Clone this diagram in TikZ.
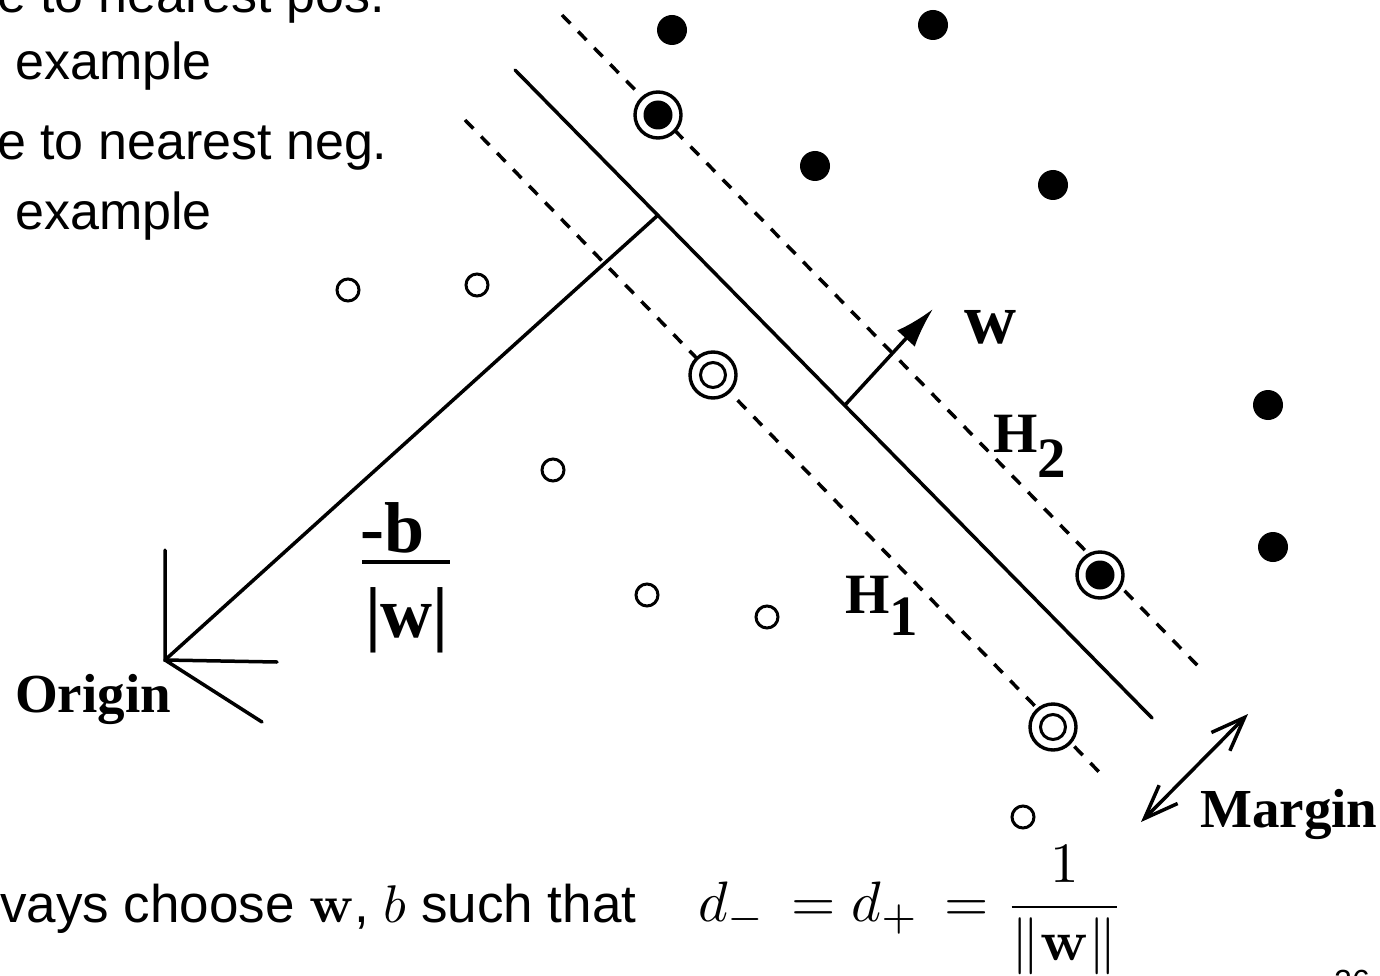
\documentclass[tikz,border=0pt]{standalone}
\usepackage{graphicx}
\usepackage[no-math]{fontspec}
\setmainfont{Liberation Sans}
\newfontfamily\tnr{Liberation Serif}
\usetikzlibrary{arrows.meta}
\newcommand{\mybigmath}[1]{\scalebox{5.3}{\normalsize$#1$}}
\begin{document}
\begin{tikzpicture}[x=1pt,y=-1pt,
  solidline/.style={line width=3.5pt, line cap=round},
  dashline/.style={line width=3.5pt, dash pattern=on 12pt off 11pt},
  posdot/.style={circle, fill=black, inner sep=0pt, minimum size=30pt},
  innerdot/.style={circle, fill=black, inner sep=0pt, minimum size=29pt},
  negdot/.style={circle, draw=black, line width=3pt, fill=white, inner sep=0pt, minimum size=22pt},
  innerneg/.style={circle, draw=black, line width=3pt, fill=white, inner sep=0pt, minimum size=25pt},
  ringmark/.style={circle, draw=black, line width=3.4pt, fill=white, inner sep=0pt, minimum size=46pt},
  slide/.style={font=\fontsize{52}{60}\selectfont, inner sep=0pt, anchor=base west},
  lab/.style={font=\fontsize{55}{60}\selectfont\tnr\bfseries, inner sep=0pt},
  biglab/.style={font=\fontsize{72}{76}\selectfont\tnr\bfseries, inner sep=0pt, anchor=base},
]
\useasboundingbox (0,0) rectangle (1380,976);

% slide text
\node[slide] (t1) at (-3,13) {e to nearest pos.};
\node[slide] (t2) at (15,80) {example};
\node[slide] (t3) at (-3,160) {e to nearest neg.};
\node[slide] (t4) at (15,230) {example};
\node[slide, font=\fontsize{53}{60}\selectfont] (t5) at (0,922) {vays choose \mybigmath{\mathbf{w}}, \mybigmath{b} such that};
\node[inner sep=0pt, anchor=base west, scale=5.7] (t6) at (697,921) {$\displaystyle d_- \,= d_+ \,= \frac{1}{\|\mathbf{w}\|}$};
\node[inner sep=0pt, anchor=base west, font=\fontsize{32}{36}\selectfont] (pg) at (1334,992) {26};

% hyperplanes
\coordinate (s1) at (515,70);
\coordinate (s2) at (1152,718);
\coordinate (u1) at (562,15);
\coordinate (u2) at (1200,668);
\coordinate (l1) at (465,120);
\coordinate (l2) at (1103,776);
\draw[solidline] (s1) -- (s2);
\draw[dashline] (u1) -- (u2);
\draw[dashline] (l1) -- (l2);

% origin
\coordinate (org) at (165,660);
\coordinate (foot) at (657,216);
\coordinate (ov) at (165,550);
\coordinate (oh) at (277,662);
\coordinate (od) at (262,722);
\draw[solidline] (org) -- (foot);
\draw[solidline] (ov) -- (org) -- (oh);
\draw[solidline] (org) -- (od);
\node[lab, anchor=base west] (origin) at (15,712) {Origin};

% w arrow
\coordinate (wb) at (845,405);
\coordinate (wt) at (933,309);
\draw[line width=3.5pt, -{Latex[length=40pt,width=24pt]}] (wb) -- (wt);
\node[biglab] (wlab) at (990,343) {w};

% labels H
\node[lab, anchor=base west, font=\fontsize{57}{60}\selectfont\tnr\bfseries] (h2) at (993,452) {H\raisebox{-25pt}{2}};
\node[lab, anchor=base west, font=\fontsize{57}{60}\selectfont\tnr\bfseries] (h1) at (845,613) {H\raisebox{-22pt}{1}};

% -b / |w|
\node[biglab] (mb) at (393,552) {-b};
\node[biglab] (mw) at (407,637) {|w|};
\coordinate (bar1) at (362,562);
\coordinate (bar2) at (450,562);
\draw[line width=3.5pt] (bar1) -- (bar2);

% margin
\coordinate (m1) at (1141,822);
\coordinate (m2) at (1248,714);
\draw[line width=3.5pt, {Straight Barb[length=34pt,width=26pt]}-{Straight Barb[length=34pt,width=26pt]}] (m1) -- (m2);
\node[lab, anchor=base west] (margin) at (1200,827) {Margin};

% positive points
\node[posdot] (p1) at (672,30) {};
\node[posdot] (p2) at (933,25) {};
\node[posdot] (p3) at (815,166) {};
\node[posdot] (p4) at (1053,185) {};
\node[posdot] (p5) at (1268,405) {};
\node[posdot] (p6) at (1273,547) {};
% support vectors positive
\node[ringmark] (sp1) at (658,115) {};
\node[innerdot] at (sp1.center) {};
\node[ringmark] (sp2) at (1100,575) {};
\node[innerdot] at (sp2.center) {};

% negative points
\node[negdot] (n1) at (348,290) {};
\node[negdot] (n2) at (477,285) {};
\node[negdot] (n3) at (553,470) {};
\node[negdot] (n4) at (647,595) {};
\node[negdot] (n5) at (767,617) {};
\node[negdot] (n6) at (1023,817) {};
% support vectors negative
\node[ringmark] (sn1) at (713,375) {};
\node[innerneg] at (sn1.center) {};
\node[ringmark] (sn2) at (1053,727) {};
\node[innerneg] at (sn2.center) {};
\end{tikzpicture}
\end{document}
